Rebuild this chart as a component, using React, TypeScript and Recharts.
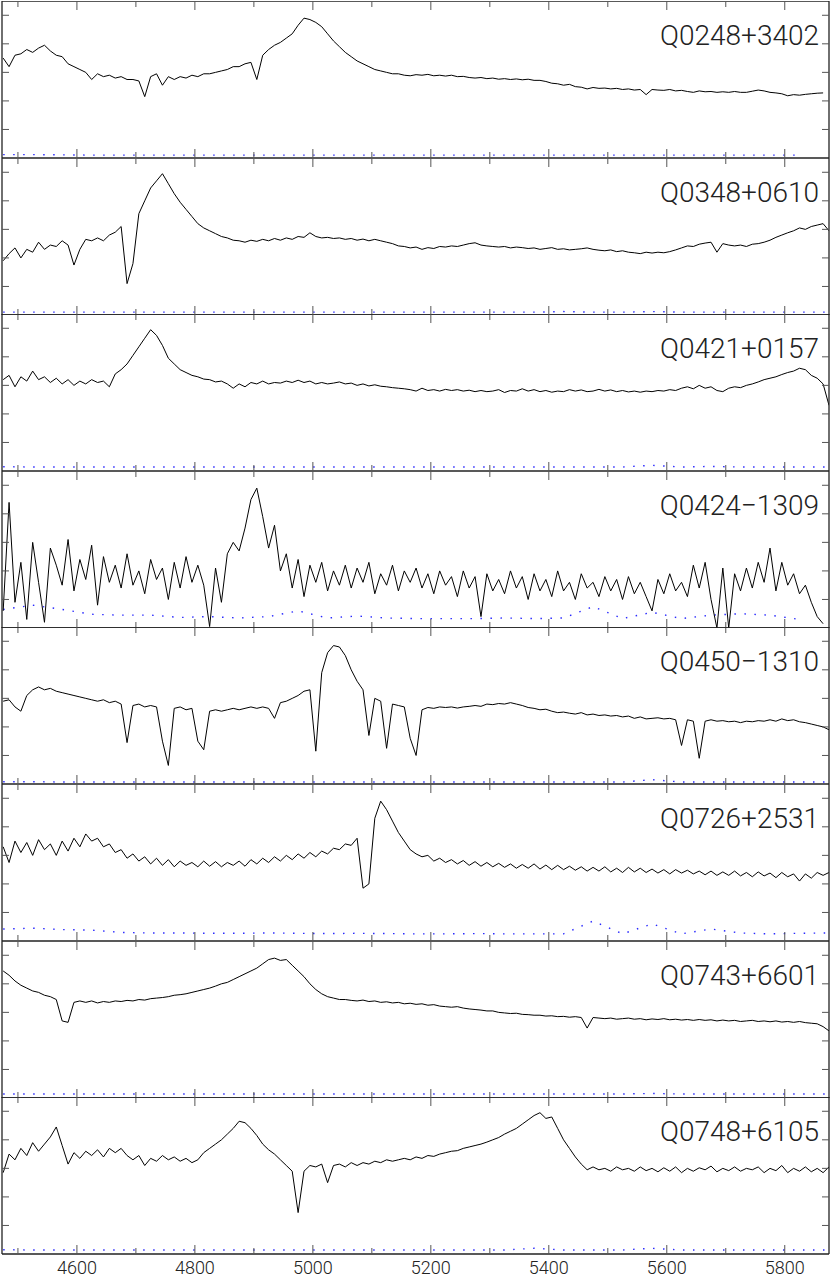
import React from 'react';
import { LineChart, Line, XAxis, YAxis } from 'recharts';

// wavelength grid of the spectra (Angstrom), one sample every 10 A
const WAVE_START = 4475;
const WAVE_STEP = 10;
// the error spectra are read more coarsely
const ERR_STEP = 50;

const X_DOMAIN: [number, number] = [4473, 5875];
const MAJOR_TICKS = [4600, 4800, 5000, 5200, 5400, 5600, 5800];
const MINOR_TICKS = [4500, 4700, 4900, 5100, 5300, 5500, 5700];
const Y_TICKS = [1, 2, 3, 4, 5];

const NAMES = [
  'Q0248+3402',
  'Q0348+0610',
  'Q0421+0157',
  'Q0424\u22121309',
  'Q0450\u22121310',
  'Q0726+2531',
  'Q0743+6601',
  'Q0748+6105',
];

const FLUX_0248 = [
  3.5, 3.2, 3.6, 3.65, 3.8, 3.7, 3.85, 3.95, 3.75, 3.6,
  3.55, 3.3, 3.2, 3.1, 3.0, 2.75, 2.95, 2.85, 2.9, 2.8,
  2.85, 2.75, 2.75, 2.7, 2.15, 2.85, 2.95, 2.55, 2.85, 2.75,
  2.85, 2.8, 2.9, 2.85, 2.95, 2.95, 3.0, 3.05, 3.1, 3.2,
  3.2, 3.3, 3.35, 2.75, 3.6, 3.8, 3.95, 4.05, 4.2, 4.35,
  4.65, 4.9, 4.85, 4.75, 4.6, 4.35, 4.1, 3.9, 3.7, 3.55,
  3.4, 3.3, 3.2, 3.1, 3.05, 3.0, 2.95, 2.95, 2.9, 2.88,
  2.92, 2.9, 2.93, 2.88, 2.9, 2.87, 2.9, 2.85, 2.86, 2.82,
  2.8, 2.82, 2.78, 2.8, 2.76, 2.78, 2.75, 2.77, 2.74, 2.76,
  2.72, 2.72, 2.68, 2.62, 2.6, 2.55, 2.58, 2.5, 2.48, 2.42,
  2.47, 2.44, 2.45, 2.42, 2.44, 2.4, 2.42, 2.38, 2.4, 2.22,
  2.4, 2.38, 2.37, 2.4, 2.35, 2.37, 2.33, 2.3, 2.35, 2.32,
  2.33, 2.3, 2.32, 2.3, 2.33, 2.3, 2.3, 2.34, 2.38, 2.35,
  2.3, 2.28, 2.25, 2.18, 2.22, 2.2, 2.23, 2.25, 2.27, 2.28,
  null,
];

const FLUX_0348 = [
  1.9, 2.15, 2.35, 2.0, 2.3, 2.2, 2.55, 2.3, 2.45, 2.4,
  2.6, 2.45, 1.75, 2.3, 2.65, 2.6, 2.7, 2.6, 2.8, 2.9,
  3.1, 1.1, 1.8, 3.55, 4.0, 4.45, 4.7, 4.95, 4.6, 4.25,
  3.95, 3.7, 3.45, 3.2, 3.05, 2.95, 2.85, 2.75, 2.7, 2.62,
  2.6, 2.55, 2.62, 2.58, 2.65, 2.6, 2.68, 2.62, 2.7, 2.65,
  2.75, 2.72, 2.88, 2.75, 2.7, 2.72, 2.68, 2.7, 2.65, 2.68,
  2.62, 2.66, 2.6, 2.65, 2.6, 2.55, 2.5, 2.42, 2.4, 2.35,
  2.38, 2.3, 2.36, 2.33, 2.4, 2.38, 2.42, 2.4, 2.45, 2.5,
  2.53, 2.45, 2.42, 2.4, 2.38, 2.4, 2.35, 2.38, 2.36, 2.33,
  2.35, 2.3, 2.33, 2.36, 2.3, 2.32, 2.28, 2.3, 2.32, 2.35,
  2.3, 2.27, 2.25, 2.28, 2.22, 2.25, 2.2, 2.18, 2.15, 2.2,
  2.17, 2.2, 2.18, 2.22, 2.28, 2.35, 2.42, 2.4, 2.48, 2.52,
  2.55, 2.2, 2.5, 2.45, 2.42, 2.45, 2.4, 2.48, 2.5, 2.55,
  2.62, 2.72, 2.8, 2.88, 2.95, 3.05, 3.0, 3.1, 3.15, 3.2,
  2.95,
];

const FLUX_0421 = [
  3.2, 3.35, 2.95, 3.3, 3.15, 3.5, 3.2, 3.3, 3.1, 3.25,
  3.05, 3.2, 3.0, 3.15, 3.05, 3.2, 3.1, 3.15, 2.95, 3.4,
  3.55, 3.75, 4.05, 4.35, 4.65, 4.95, 4.75, 4.4, 3.95, 3.75,
  3.55, 3.45, 3.35, 3.3, 3.22, 3.2, 3.12, 3.15, 3.05, 2.9,
  3.05, 2.95, 3.1, 3.05, 3.15, 3.05, 3.1, 3.08, 3.15, 3.1,
  3.18, 3.1, 3.15, 3.05, 3.1, 3.05, 3.08, 3.12, 3.05, 3.08,
  3.0, 3.05, 2.98, 3.02, 2.97, 2.95, 2.92, 2.9, 2.88, 2.85,
  2.8, 2.9, 2.82, 2.85, 2.8, 2.86, 2.82, 2.85, 2.8, 2.83,
  2.78, 2.82, 2.78, 2.8, 2.85, 2.75, 2.82, 2.8, 2.88, 2.8,
  2.85, 2.78, 2.82, 2.76, 2.8, 2.78, 2.85, 2.8, 2.84, 2.78,
  2.8, 2.86, 2.8, 2.84, 2.78, 2.82, 2.77, 2.8, 2.76, 2.8,
  2.78, 2.82, 2.8, 2.85, 2.82, 2.9, 2.95, 2.88, 3.0, 2.9,
  2.95, 2.82, 2.78, 2.9, 2.95, 2.92, 3.0, 3.05, 3.12, 3.2,
  3.25, 3.3, 3.38, 3.45, 3.5, 3.6, 3.55, 3.35, 3.25, 3.05,
  2.3,
];

const FLUX_0424 = [
  0.6, 4.4, 0.9, 2.3, 0.3, 3.0, 1.6, 0.2, 2.8, 2.2,
  1.5, 3.1, 1.3, 2.4, 1.7, 2.9, 0.8, 2.5, 1.6, 2.2,
  1.4, 2.6, 1.5, 2.0, 1.2, 2.4, 1.7, 2.1, 1.0, 2.3,
  1.4, 2.5, 1.6, 2.2, 1.5, 0.05, 2.1, 0.9, 2.6, 3.0,
  2.7, 3.5, 4.5, 4.9, 3.9, 2.8, 3.6, 2.0, 2.6, 1.4,
  2.4, 1.1, 2.2, 1.6, 2.3, 1.3, 2.0, 1.5, 2.2, 1.4,
  2.1, 1.6, 2.3, 1.2, 1.9, 1.5, 2.2, 1.3, 2.0, 1.6,
  2.1, 1.4, 1.9, 1.2, 2.0, 1.5, 1.8, 1.1, 2.0, 1.4,
  1.8, 0.4, 1.9, 1.3, 1.7, 1.2, 2.0, 1.4, 1.8, 1.0,
  1.9, 1.3, 1.7, 1.1, 2.0, 1.3, 1.6, 1.0, 1.9, 1.4,
  1.6, 1.1, 1.8, 1.3, 1.7, 1.0, 1.8, 1.2, 1.6, 1.1,
  0.6, 1.7, 1.2, 1.9, 1.3, 1.6, 1.1, 2.2, 1.4, 2.3,
  1.0, 0.0, 2.1, 0.0, 1.9, 1.3, 2.1, 1.4, 2.3, 1.6,
  2.8, 1.3, 2.3, 1.5, 1.9, 1.2, 1.5, 0.9, 0.4, 0.15,
  null,
];

const FLUX_0450 = [
  2.9, 2.95, 2.7, 2.55, 3.1, 3.3, 3.4, 3.3, 3.35, 3.25,
  3.2, 3.15, 3.1, 3.05, 3.0, 2.95, 2.9, 2.95, 2.85, 2.9,
  2.8, 1.45, 2.75, 2.8, 2.7, 2.75, 2.7, 1.5, 0.65, 2.65,
  2.7, 2.6, 2.65, 1.5, 1.2, 2.55, 2.6, 2.55, 2.6, 2.65,
  2.6, 2.65, 2.7, 2.65, 2.7, 2.65, 2.3, 2.85, 2.9, 3.0,
  3.1, 3.25, 3.3, 1.15, 3.9, 4.6, 4.85, 4.8, 4.5, 4.0,
  3.6, 3.3, 1.7, 3.0, 2.9, 1.25, 2.8, 2.75, 2.7, 1.6,
  1.0, 2.6, 2.68, 2.65, 2.7, 2.68, 2.7, 2.66, 2.7, 2.72,
  2.75, 2.72, 2.8, 2.78, 2.82, 2.8, 2.85, 2.8, 2.75, 2.68,
  2.65, 2.6, 2.62, 2.55, 2.5, 2.52, 2.48, 2.45, 2.5, 2.42,
  2.45, 2.4, 2.42, 2.38, 2.4, 2.35, 2.38, 2.3, 2.35, 2.28,
  2.3, 2.32, 2.28, 2.3, 2.25, 1.35, 2.25, 2.2, 0.9, 2.2,
  2.25, 2.2, 2.22, 2.18, 2.2, 2.15, 2.2, 2.18, 2.22, 2.2,
  2.25, 2.2, 2.28, 2.22, 2.25, 2.18, 2.15, 2.1, 2.05, 2.0,
  1.9,
];

const FLUX_0726 = [
  3.3, 2.75, 3.5, 3.1, 3.45, 3.0, 3.55, 3.2, 3.4, 3.0,
  3.5, 3.15, 3.6, 3.3, 3.75, 3.5, 3.6, 3.3, 3.4, 3.1,
  3.2, 2.9, 3.05, 2.8, 2.95, 2.7, 2.9, 2.65, 2.85, 2.6,
  2.8, 2.65, 2.75, 2.6, 2.8, 2.62, 2.78, 2.6, 2.75, 2.65,
  2.8, 2.62, 2.85, 2.7, 2.9, 2.75, 2.95, 2.8, 3.0, 2.85,
  3.05, 2.9, 3.1, 2.95, 3.15, 3.05, 3.25, 3.2, 3.4, 3.35,
  3.6, 1.85, 2.0, 4.3, 4.9, 4.6, 4.2, 3.8, 3.5, 3.2,
  3.05, 2.95, 3.0, 2.8, 2.9, 2.75, 2.85, 2.7, 2.82, 2.65,
  2.78, 2.62, 2.75, 2.6, 2.72, 2.58, 2.7, 2.55, 2.68, 2.55,
  2.7, 2.52, 2.66, 2.5, 2.65, 2.5, 2.62, 2.48, 2.6, 2.45,
  2.58, 2.45, 2.6, 2.42, 2.55, 2.4, 2.58, 2.42, 2.55, 2.4,
  2.52, 2.38, 2.5, 2.35, 2.5, 2.38, 2.48, 2.35, 2.45, 2.32,
  2.45, 2.3, 2.42, 2.3, 2.45, 2.28, 2.4, 2.25, 2.42, 2.28,
  2.38, 2.22, 2.4, 2.25, 2.35, 2.1, 2.35, 2.2, 2.4, 2.3,
  2.4,
];

const FLUX_0743 = [
  4.45, 4.3, 4.1, 3.95, 3.85, 3.75, 3.7, 3.6, 3.55, 3.45,
  2.7, 2.65, 3.35, 3.4, 3.35, 3.4, 3.33, 3.38, 3.35, 3.4,
  3.38, 3.42, 3.4, 3.45, 3.43, 3.48, 3.5, 3.52, 3.55, 3.6,
  3.62, 3.65, 3.7, 3.75, 3.8, 3.85, 3.92, 4.0, 4.05, 4.15,
  4.25, 4.35, 4.45, 4.55, 4.7, 4.85, 4.9, 4.82, 4.85, 4.65,
  4.45, 4.25, 4.0, 3.8, 3.65, 3.55, 3.5, 3.45, 3.45, 3.42,
  3.4, 3.43, 3.38, 3.4, 3.35, 3.37, 3.33, 3.35, 3.3, 3.32,
  3.28, 3.3, 3.25, 3.27, 3.22, 3.2, 3.18, 3.2, 3.15, 3.12,
  3.1, 3.08, 3.05, 3.05, 3.0, 2.98, 2.96, 2.97, 2.93, 2.92,
  2.9, 2.9, 2.87, 2.88, 2.85, 2.86, 2.83, 2.85, 2.82, 2.45,
  2.82, 2.8, 2.78, 2.8, 2.76, 2.78, 2.8, 2.76, 2.78, 2.74,
  2.77, 2.75, 2.78, 2.74, 2.76, 2.73, 2.75, 2.72, 2.75, 2.72,
  2.74, 2.7, 2.73, 2.7, 2.72, 2.68, 2.7, 2.72, 2.68, 2.7,
  2.67, 2.7, 2.66, 2.68, 2.65, 2.68, 2.64, 2.62, 2.6, 2.5,
  2.35,
];

const FLUX_0748 = [
  2.85, 3.5, 3.3, 3.7, 3.45, 3.9, 3.6, 3.85, 4.1, 4.45,
  3.8, 3.15, 3.55, 3.35, 3.6, 3.45, 3.65, 3.4, 3.7, 3.55,
  3.7, 3.45, 3.3, 3.45, 3.1, 3.35, 3.25, 3.45, 3.3, 3.4,
  3.25, 3.35, 3.2, 3.3, 3.55, 3.7, 3.85, 4.0, 4.2, 4.4,
  4.65, 4.6, 4.4, 4.15, 3.85, 3.65, 3.5, 3.3, 3.1, 2.9,
  1.45, 2.9, 3.1, 3.05, 3.15, 2.5, 3.1, 3.15, 3.05, 3.2,
  3.1, 3.2, 3.15, 3.25, 3.2, 3.3, 3.25, 3.3, 3.35, 3.3,
  3.4, 3.35, 3.45, 3.42, 3.5, 3.55, 3.6, 3.62, 3.7, 3.75,
  3.8, 3.85, 3.92, 4.0, 4.08, 4.2, 4.3, 4.4, 4.55, 4.7,
  4.85, 4.95, 4.75, 4.8, 4.4, 4.0, 3.7, 3.4, 3.15, 2.95,
  3.05, 2.95, 3.0, 2.9, 3.05, 2.95, 3.0, 2.9, 3.05, 2.92,
  3.0, 2.88, 3.02, 2.9, 3.05, 2.85, 3.0, 2.9, 3.02, 2.95,
  3.08, 2.88, 3.0, 2.92, 3.05, 2.9, 3.0, 2.95, 3.05, 2.85,
  3.0, 2.92, 3.1, 2.85, 3.0, 2.9, 3.05, 2.88, 3.0, 2.85,
  3.05,
];

// error spectra, one value every 50 A from 4475 A
const ERR_0248 = [0.12, 0.12, 0.11, 0.1, 0.1, 0.1, 0.1, 0.1, 0.1, 0.1, 0.1, 0.1, 0.1, 0.1, 0.1, 0.1, 0.1, 0.1, 0.1, 0.1, 0.1, 0.1, 0.1, 0.1, 0.1, 0.1, 0.1, 0.1, null];
const ERR_0348 = [0.1, 0.1, 0.1, 0.1, 0.1, 0.1, 0.1, 0.1, 0.1, 0.1, 0.1, 0.1, 0.1, 0.1, 0.1, 0.1, 0.1, 0.1, 0.1, 0.12, 0.1, 0.1, 0.12, 0.1, 0.1, 0.1, 0.1, 0.1, 0.1];
const ERR_0421 = [0.15, 0.14, 0.14, 0.14, 0.14, 0.14, 0.14, 0.14, 0.14, 0.14, 0.14, 0.14, 0.14, 0.14, 0.14, 0.14, 0.14, 0.14, 0.14, 0.14, 0.14, 0.14, 0.2, 0.14, 0.16, 0.14, 0.14, 0.14, 0.14];
const ERR_0424 = [0.65, 0.8, 0.65, 0.48, 0.45, 0.45, 0.37, 0.4, 0.35, 0.4, 0.6, 0.35, 0.42, 0.35, 0.33, 0.33, 0.33, 0.35, 0.33, 0.35, 0.75, 0.33, 0.55, 0.33, 0.45, 0.5, 0.45, 0.3, null];
const ERR_0450 = [0.08, 0.08, 0.07, 0.07, 0.07, 0.07, 0.07, 0.07, 0.07, 0.07, 0.07, 0.07, 0.07, 0.07, 0.07, 0.07, 0.07, 0.07, 0.07, 0.07, 0.07, 0.07, 0.15, 0.07, 0.07, 0.07, 0.07, 0.07, 0.07];
const ERR_0726 = [0.42, 0.45, 0.4, 0.38, 0.3, 0.28, 0.28, 0.27, 0.27, 0.28, 0.27, 0.26, 0.27, 0.26, 0.25, 0.25, 0.26, 0.25, 0.25, 0.25, 0.7, 0.25, 0.6, 0.25, 0.42, 0.28, 0.25, 0.27, 0.28];
const ERR_0743 = [0.14, 0.14, 0.14, 0.14, 0.14, 0.14, 0.14, 0.14, 0.14, 0.14, 0.14, 0.14, 0.14, 0.14, 0.14, 0.14, 0.14, 0.14, 0.14, 0.14, 0.14, 0.14, 0.16, 0.14, 0.14, 0.14, 0.14, 0.14, 0.14];
const ERR_0748 = [0.15, 0.14, 0.14, 0.14, 0.14, 0.14, 0.14, 0.14, 0.14, 0.14, 0.14, 0.14, 0.14, 0.14, 0.14, 0.14, 0.14, 0.14, 0.2, 0.14, 0.14, 0.14, 0.2, 0.14, 0.14, 0.14, 0.14, 0.14, 0.14];

const FLUXES = [FLUX_0248, FLUX_0348, FLUX_0421, FLUX_0424, FLUX_0450, FLUX_0726, FLUX_0743, FLUX_0748];
const ERRORS = [ERR_0248, ERR_0348, ERR_0421, ERR_0424, ERR_0450, ERR_0726, ERR_0743, ERR_0748];

const PANEL_H = 157;
const LABEL_H = 24;
const FRAME = '#222';
const TICK = '#555';
const noLabel = () => '';

type PanelProps = {
  name: string;
  flux: (number | null)[];
  err: (number | null)[];
  top: number;
  last: boolean;
};

const Panel: React.FC<PanelProps> = ({ name, flux, err, top, last }) => {
  const spec = flux.map((f, i) => ({ w: WAVE_START + i * WAVE_STEP, f }));
  const sigma = err.map((f, i) => ({ w: WAVE_START + i * ERR_STEP, f }));
  const h = last ? PANEL_H + LABEL_H : PANEL_H;

  // mirrored axes draw their ticks inwards, like the frame of the original plot
  return (
    <div style={{ position: 'absolute', left: 0, top, width: 830, height: h }}>
      <LineChart width={830} height={h} margin={{ top: 0, right: 1, bottom: 0, left: 2 }}>
        <XAxis xAxisId="bot" dataKey="w" type="number" domain={X_DOMAIN} allowDataOverflow
          orientation="bottom" mirror height={1} ticks={MAJOR_TICKS} interval={0} tickFormatter={noLabel}
          tickSize={9} tickLine={{ stroke: TICK }} axisLine={{ stroke: FRAME, strokeWidth: 1.3 }} />
        <XAxis xAxisId="botMinor" dataKey="w" type="number" domain={X_DOMAIN} allowDataOverflow
          orientation="bottom" mirror height={1} ticks={MINOR_TICKS} interval={0} tickFormatter={noLabel}
          tickSize={5} tickLine={{ stroke: TICK }} axisLine={false} />
        <XAxis xAxisId="top" dataKey="w" type="number" domain={X_DOMAIN} allowDataOverflow
          orientation="top" mirror height={1} ticks={MAJOR_TICKS} interval={0} tickFormatter={noLabel}
          tickSize={9} tickLine={{ stroke: TICK }} axisLine={{ stroke: FRAME, strokeWidth: 1.3 }} />
        <XAxis xAxisId="topMinor" dataKey="w" type="number" domain={X_DOMAIN} allowDataOverflow
          orientation="top" mirror height={1} ticks={MINOR_TICKS} interval={0} tickFormatter={noLabel}
          tickSize={5} tickLine={{ stroke: TICK }} axisLine={false} />
        {last && (
          <XAxis xAxisId="labels" dataKey="w" type="number" domain={X_DOMAIN} allowDataOverflow
            orientation="bottom" height={LABEL_H} ticks={MAJOR_TICKS} interval={0}
            tickSize={0} tickMargin={7} tickLine={false} axisLine={false}
            tick={{ fill: '#222', fontSize: 18, fontFamily: 'Roboto', fontWeight: 300 }} />
        )}
        <YAxis yAxisId="l" type="number" domain={[0, 5.5]} allowDataOverflow orientation="left"
          mirror width={1} ticks={Y_TICKS} interval={0} tickFormatter={noLabel} tickSize={7}
          tickLine={{ stroke: TICK }} axisLine={{ stroke: FRAME, strokeWidth: 1.3 }} />
        <YAxis yAxisId="r" type="number" domain={[0, 5.5]} allowDataOverflow orientation="right"
          mirror width={1} ticks={Y_TICKS} interval={0} tickFormatter={noLabel} tickSize={7}
          tickLine={{ stroke: TICK }} axisLine={{ stroke: FRAME, strokeWidth: 1.3 }} />
        <Line xAxisId="bot" yAxisId="l" data={sigma} dataKey="f" type="linear" dot={false}
          stroke="#2a2aff" strokeWidth={1.4} strokeDasharray="1.5 8.5" isAnimationActive={false} />
        <Line xAxisId="bot" yAxisId="l" data={spec} dataKey="f" type="linear" dot={false}
          stroke="#000" strokeWidth={1} isAnimationActive={false} />
      </LineChart>
      <div style={{
        position: 'absolute', right: 11, top: 21, fontFamily: 'Roboto', fontWeight: 300,
        fontSize: 28, lineHeight: '28px', color: '#222', whiteSpace: 'nowrap',
      }}>
        {name}
      </div>
    </div>
  );
};

const App: React.FC = () => {
  return (
    <div style={{ position: 'absolute', left: 0, top: 0, width: 830, height: 1278, background: '#fff' }}>
      {NAMES.map((name, i) => (
        <Panel key={name} name={name} flux={FLUXES[i]} err={ERRORS[i]}
          top={Math.round(1 + 156.6 * i)} last={i === NAMES.length - 1} />
      ))}
    </div>
  );
};

export default App;
